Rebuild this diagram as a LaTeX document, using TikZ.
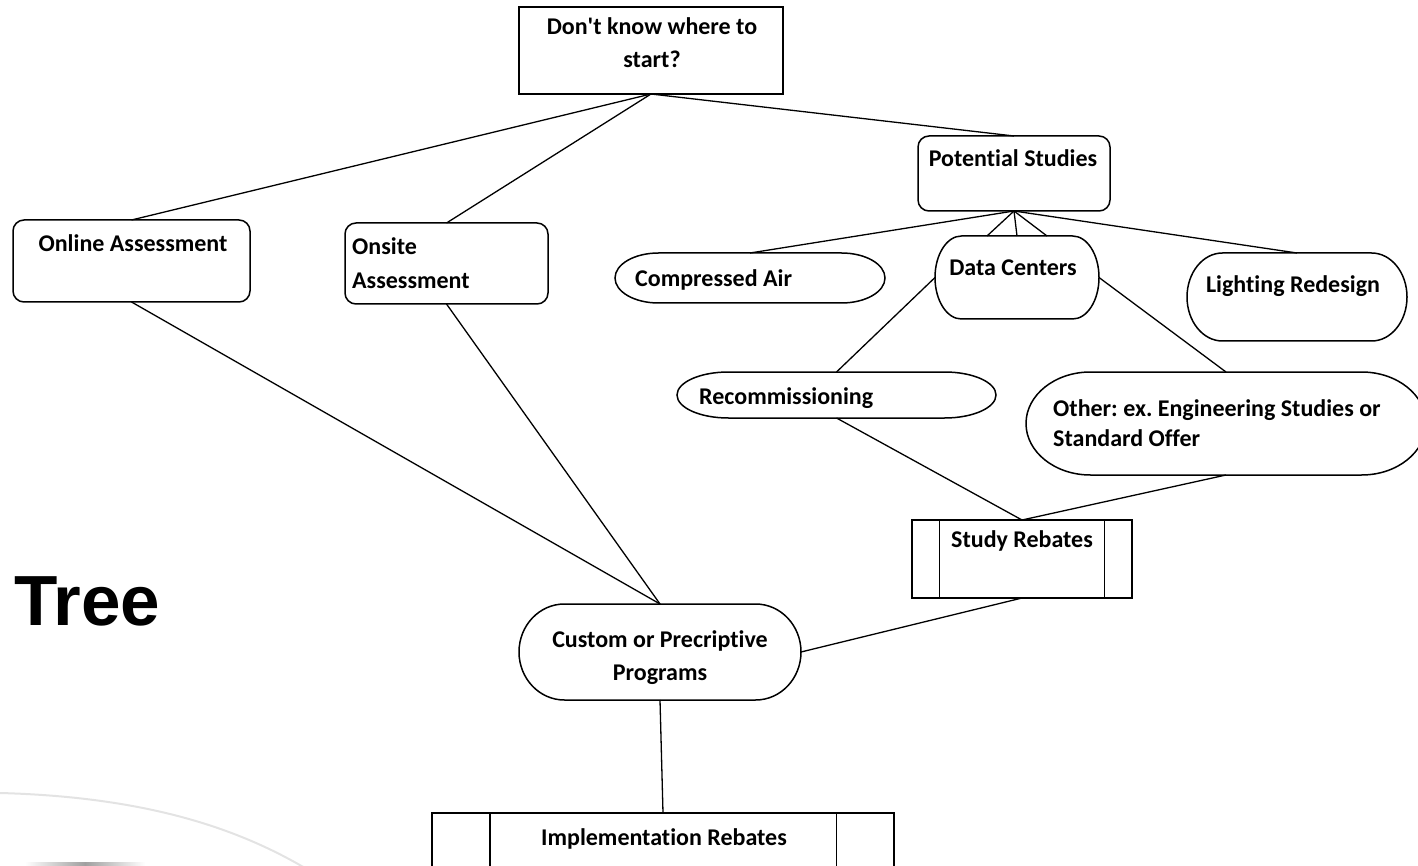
\documentclass[tikz,border=0pt]{standalone}
\usepackage{fontspec}
\setmainfont{Carlito}[Ligatures={NoCommon}]
\newfontfamily\arialfont{Liberation Sans}
\usetikzlibrary{calc}
\frenchspacing

\newcommand\termpath[1]{%
  \draw[boxline] let \p1=(#1.north west), \p2=(#1.south east),
    \n1={0.161*(\x2-\x1)}, \n2={0.5*(\y1-\y2)} in
    ({\x1+\n1*1pt},\y1) -- ({\x2-\n1*1pt},\y1)
    arc[start angle=90, end angle=-90, x radius={\n1*1pt}, y radius={\n2*1pt}]
    -- ({\x1+\n1*1pt},\y2)
    arc[start angle=270, end angle=90, x radius={\n1*1pt}, y radius={\n2*1pt}]
    -- cycle;}
\newcommand\predefpath[1]{%
  \draw[boxline] ($(#1.north west)!0.125!(#1.north east)$) -- ($(#1.south west)!0.125!(#1.south east)$);
  \draw[boxline] ($(#1.north west)!0.875!(#1.north east)$) -- ($(#1.south west)!0.875!(#1.south east)$);}

\begin{document}
\begin{tikzpicture}[x=1pt,y=-1pt,
  boxline/.style={draw=black, line width=1.5pt},
  conn/.style={draw=black, line width=1.3pt},
  shp/.style={draw=none, inner sep=0pt, outer sep=0pt},
  plainbox/.style={shp, draw=black, line width=1.5pt},
  rbox/.style={shp, draw=black, line width=1.5pt, rounded corners=11pt},
  txt/.style={font=\bfseries\fontsize{24}{33}\selectfont, inner sep=0pt, anchor=base},
  ltxt/.style={txt, anchor=base west},
]
\useasboundingbox (0,0) rectangle (1418,866);
\clip (0,0) rectangle (1418,866);

% background swoosh
\draw[gray!22, line width=2pt] (0,793) .. controls (150,797) and (240,830) .. (305,868);
\shade[left color=white, right color=white, middle color=gray!75] (25,862) rectangle (145,870);

% shapes
\node[plainbox, minimum width=264pt, minimum height=87pt] (top) at (651,50.5) {};
\node[rbox, minimum width=192pt, minimum height=75pt] (pot) at (1014,173.5) {};
\node[rbox, minimum width=237pt, minimum height=82pt] (online) at (131.5,261) {};
\node[rbox, minimum width=203pt, minimum height=81pt] (onsite) at (446.5,263.5) {};
\node[shp, minimum width=270pt, minimum height=50pt] (comp) at (750,278) {};
\node[shp, minimum width=164pt, minimum height=83pt] (dc) at (1017,277.5) {};
\node[shp, minimum width=220pt, minimum height=88pt] (light) at (1297,297) {};
\node[shp, minimum width=319pt, minimum height=46pt] (recomm) at (836.5,395) {};
\node[shp, minimum width=400pt, minimum height=103pt] (other) at (1226,423.5) {};
\node[plainbox, minimum width=220pt, minimum height=78pt] (study) at (1022,559) {};
\node[shp, minimum width=282pt, minimum height=96pt] (custom) at (660,652) {};
\node[plainbox, minimum width=462pt, minimum height=80pt] (impl) at (663,853) {};

\termpath{comp}
\termpath{dc}
\termpath{light}
\termpath{recomm}
\termpath{other}
\termpath{custom}
\predefpath{study}
\predefpath{impl}

% texts
\node[txt] (toptA) at (652,35) {Don\textquotesingle t know where to};
\node[txt] (toptB) at (652,68) {start?};
\node[txt] (pott) at (1013,167) {Potential Studies};
\node[txt] (onlinet) at (133,252) {Online Assessment};
\node[ltxt] (onsitetA) at (352,255) {Onsite};
\node[ltxt] (onsitetB) at (352,289) {Assessment};
\node[ltxt] (compt) at (635,287) {Compressed Air};
\node[txt] (dct) at (1013,276) {Data Centers};
\node[txt] (lightt) at (1293,293) {Lighting Redesign};
\node[ltxt] (recommt) at (699,404) {Recommissioning};
\node[ltxt] (othertA) at (1053,416) {Other: ex. Engineering Studies or};
\node[ltxt] (othertB) at (1053,446) {Standard Offer};
\node[txt] (studyt) at (1022,547) {Study Rebates};
\node[txt] (customtA) at (660,647) {Custom or Precriptive};
\node[txt] (customtB) at (660,680) {Programs};
\node[txt] (implt) at (664,845) {Implementation Rebates};
\node[font=\arialfont\bfseries\fontsize{71}{71}\selectfont, anchor=base west, inner sep=0pt] (tree) at (14,625) {Tree};

% connectors
\draw[conn] (top.south) -- (online.north);
\draw[conn] (top.south) -- (onsite.north);
\draw[conn] (top.south) -- (pot.north);
\draw[conn] (pot.south) -- (comp.north);
\draw[conn] (pot.south) -- ($(dc.north)+(-30,0)$);
\draw[conn] (pot.south) -- (dc.north);
\draw[conn] (pot.south) -- ($(dc.north)+(30,0)$);
\draw[conn] (pot.south) -- (light.north);
\draw[conn] (dc.west) -- (recomm.north);
\draw[conn] (dc.east) -- (other.north);
\draw[conn] (recomm.south) -- (study.north);
\draw[conn] (other.south) -- (study.north);
\draw[conn] (online.south) -- (custom.north);
\draw[conn] (onsite.south) -- (custom.north);
\draw[conn] (study.south) -- (custom.east);
\draw[conn] (custom.south) -- (impl.north);
\end{tikzpicture}
\end{document}
